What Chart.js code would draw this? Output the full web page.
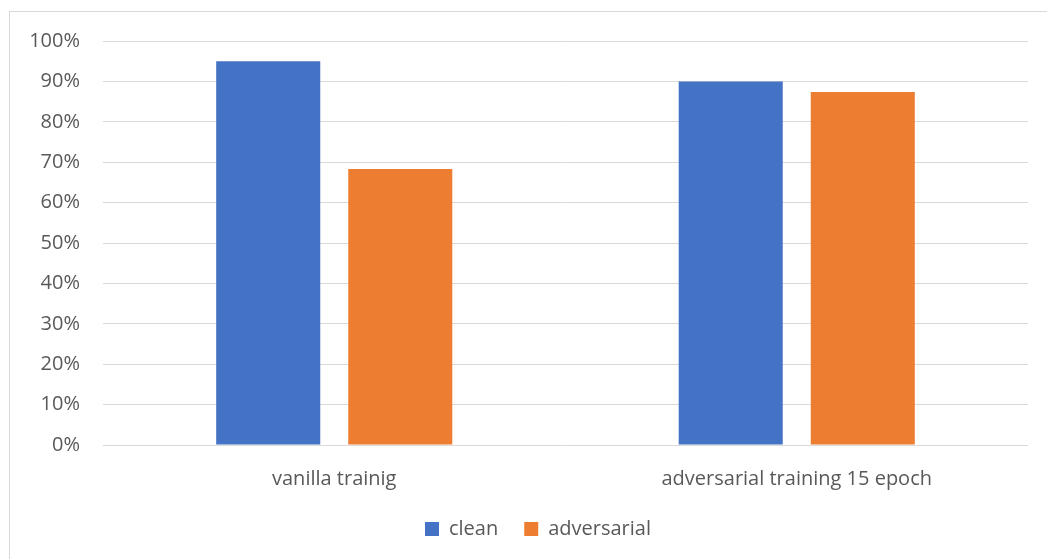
<!DOCTYPE html>
<html>
<head>
<meta charset="utf-8">
<script src="https://cdn.jsdelivr.net/npm/chart.js@4"></script>
<style>
  html, body { margin: 0; padding: 0; background: #ffffff; overflow: hidden; }
  #frame { position: absolute; left: 9px; top: 11px; width: 1050px; height: 560px; border: 1px solid #d9d9d9; box-sizing: border-box; }
  #wrap { position: absolute; left: 0; top: 0; width: 1047px; height: 559px; }
</style>
</head>
<body>
<div id="frame"></div>
<div id="wrap"><canvas id="c" width="1047" height="559"></canvas></div>
<script>
const categories = ["vanilla trainig", "adversarial training 15 epoch"];
const seriesNames = ["clean", "adversarial"];
const cleanValues = [0.95, 0.90];
const adversarialValues = [0.683, 0.874];
const tickValues = [0, 0.1, 0.2, 0.3, 0.4, 0.5, 0.6, 0.7, 0.8, 0.9, 1.0];

const FONT = "'Open Sans', sans-serif";
const TEXT = "#595959";
const FS = 20;

const legendShift = {
  id: "legendShift",
  afterLayout(chart) {
    if (chart.legend) { chart.legend.left += 19; chart.legend.right += 19; }
  }
};

new Chart(document.getElementById("c"), {
  type: "bar",
  data: {
    labels: categories,
    datasets: [
      { label: seriesNames[0], data: cleanValues, backgroundColor: "#4472c4", borderWidth: 0,
        categoryPercentage: 0.571, barPercentage: 0.788 },
      { label: seriesNames[1], data: adversarialValues, backgroundColor: "#ed7d31", borderWidth: 0,
        categoryPercentage: 0.571, barPercentage: 0.788 }
    ]
  },
  plugins: [legendShift],
  options: {
    responsive: false,
    animation: false,
    layout: { padding: { left: 10, right: 19, top: 41, bottom: 10 } },
    plugins: {
      tooltip: { enabled: false },
      legend: {
        position: "bottom",
        labels: {
          color: TEXT,
          font: { family: FONT, size: FS },
          boxWidth: 14, boxHeight: 14, padding: 26
        }
      }
    },
    scales: {
      x: {
        grid: { display: false },
        border: { display: false },
        ticks: { color: TEXT, font: { family: FONT, size: FS }, padding: 14, maxRotation: 0 },
        afterFit: (s) => { s.height = 48; }
      },
      y: {
        min: 0, max: 1,
        afterBuildTicks: (s) => { s.ticks = tickValues.map(v => ({ value: v })); },
        grid: { color: "#d9d9d9", lineWidth: 1, drawTicks: false },
        border: { display: false },
        ticks: {
          color: TEXT, font: { family: FONT, size: FS }, padding: 23,
          callback: (v) => Math.round(v * 100) + "%"
        },
        afterFit: (s) => { s.width = 93; }
      }
    }
  }
});
</script>
</body>
</html>
